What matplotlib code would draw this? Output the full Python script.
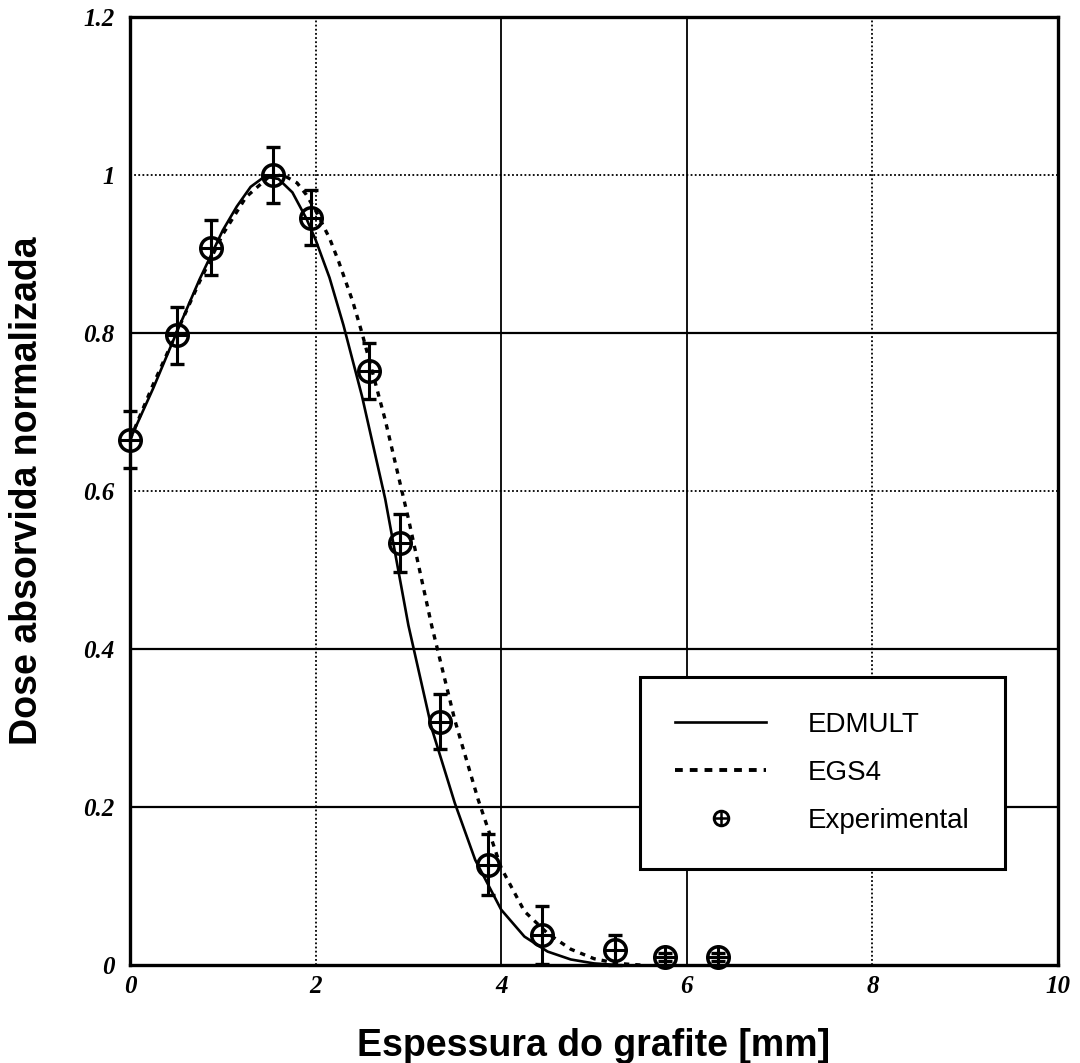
import matplotlib
matplotlib.use("Agg")
import matplotlib.pyplot as plt
from matplotlib.lines import Line2D
from matplotlib.legend_handler import HandlerTuple
from matplotlib.ticker import FuncFormatter

# ---- data ----
exp_x = [0.0, 0.51, 0.87, 1.54, 1.95, 2.58, 2.91, 3.34, 3.86, 4.44, 5.23, 5.77, 6.34]
exp_y = [0.665, 0.797, 0.908, 1.0, 0.946, 0.752, 0.534, 0.308, 0.127, 0.038, 0.019, 0.010, 0.010]
exp_err = [0.036, 0.036, 0.035, 0.035, 0.035, 0.035, 0.037, 0.035, 0.039, 0.037, 0.019, 0.005, 0.005]

edmult_x = [0, 0.25, 0.5, 0.75, 1.0, 1.15, 1.3, 1.45, 1.6, 1.75, 1.9, 2.0, 2.15, 2.3,
            2.5, 2.75, 3.0, 3.25, 3.5, 3.72, 4.0, 4.25, 4.5, 4.75, 5.0, 5.25]
edmult_y = [0.665, 0.73, 0.80, 0.868, 0.93, 0.96, 0.985, 0.998, 0.995, 0.978, 0.945, 0.918,
            0.87, 0.81, 0.72, 0.59, 0.43, 0.30, 0.205, 0.133, 0.07, 0.036, 0.017, 0.007,
            0.002, 0.0]

egs4_x = [0, 0.25, 0.5, 0.75, 1.0, 1.25, 1.5, 1.65, 1.8, 1.9, 2.0, 2.15, 2.25, 2.4, 2.5,
          2.75, 3.0, 3.25, 3.5, 3.75, 4.0, 4.25, 4.5, 4.75, 5.0, 5.25, 5.5]
egs4_y = [0.665, 0.735, 0.80, 0.865, 0.925, 0.972, 0.998, 1.0, 0.99, 0.975, 0.955, 0.92,
          0.89, 0.84, 0.80, 0.69, 0.565, 0.43, 0.31, 0.21, 0.123, 0.068, 0.04, 0.02,
          0.008, 0.002, 0.0]

x_ticks = [0, 2, 4, 6, 8, 10]
y_ticks = [0, 0.2, 0.4, 0.6, 0.8, 1.0, 1.2]

x_label = "Espessura do grafite [mm]"
y_label = "Dose absorvida normalizada"
series_labels = ["EDMULT", "EGS4", "Experimental"]

plt.rcParams["font.family"] = ["Liberation Serif", "DejaVu Serif"]
plt.rcParams["font.style"] = "italic"
plt.rcParams["font.weight"] = "bold"
plt.rcParams["xtick.labelsize"] = 18
plt.rcParams["ytick.labelsize"] = 18

# ---- figure ----
fig = plt.figure(figsize=(10.8, 10.63), dpi=100)
ax = fig.add_axes([130/1080, 1-965/1063, 928/1080, 948/1063])
ax.set_xlim(0, 10)
ax.set_ylim(0, 1.2)

# grid
ax.set_xticks(x_ticks)
ax.set_yticks(y_ticks)
ax.grid(True, color="black", linewidth=1.3, linestyle=(0, (1, 1.3)), zorder=0)
solid_x = {4, 6}
solid_y = {0.2, 0.4, 0.8}
for t, gl in zip(x_ticks, ax.get_xgridlines()):
    if t in solid_x:
        gl.set_linestyle("-")
        gl.set_linewidth(1.3)
for t, gl in zip(y_ticks, ax.get_ygridlines()):
    if round(t, 1) in solid_y:
        gl.set_linestyle("-")
        gl.set_linewidth(1.6)

# curves
ax.plot(edmult_x, edmult_y, color="black", linewidth=1.9, zorder=3)
ax.plot(egs4_x, egs4_y, color="black", linewidth=2.4, linestyle=(0, (1.6, 1.8)), zorder=3)

# experimental points
ax.errorbar(exp_x, exp_y, yerr=exp_err, fmt="none", ecolor="black", elinewidth=2.2,
            capsize=5, capthick=2.4, zorder=4, clip_on=False)
ax.plot(exp_x, exp_y, linestyle="none", marker="o", markersize=15.5, markerfacecolor="none",
        markeredgecolor="black", markeredgewidth=2.5, zorder=5, clip_on=False)
ax.plot(exp_x, exp_y, linestyle="none", marker="+", markersize=15,
        markeredgecolor="black", markeredgewidth=2.2, zorder=5, clip_on=False)

# spines
for s in ax.spines.values():
    s.set_linewidth(2.4)
    s.set_zorder(6)

# tick labels
fmt = FuncFormatter(lambda v, p: f"{v:g}")
ax.xaxis.set_major_formatter(fmt)
ax.yaxis.set_major_formatter(fmt)
ax.tick_params(axis="both", length=0)
ax.tick_params(axis="x", pad=7)
ax.tick_params(axis="y", pad=11)

# axis labels
lab_font = dict(family="Liberation Sans", weight="bold", style="normal", size=27)
ax.set_xlabel(x_label, fontdict=lab_font)
ax.set_ylabel(y_label, fontdict=lab_font)
ax.xaxis.set_label_coords(0.5, -0.066)
ax.yaxis.set_label_coords(-0.092, 0.5)

# legend
h_ed = Line2D([], [], color="black", linewidth=1.9)
h_eg = Line2D([], [], color="black", linewidth=2.8, linestyle=(0, (2.0, 1.8)))
h_c = Line2D([], [], linestyle="none", marker="o", markersize=10.5, markerfacecolor="none",
             markeredgecolor="black", markeredgewidth=2.1)
h_p = Line2D([], [], linestyle="none", marker="+", markersize=10,
             markeredgecolor="black", markeredgewidth=1.8)
leg = ax.legend([h_ed, h_eg, (h_c, h_p)], series_labels,
                handler_map={tuple: HandlerTuple(ndivide=1, pad=0)},
                loc="upper left", bbox_to_anchor=(0.5496, 0.3038), borderaxespad=0,
                prop={"family": "Liberation Sans", "size": 20, "weight": "normal",
                      "style": "normal"},
                frameon=True, fancybox=False, edgecolor="black", framealpha=1,
                borderpad=1.25, handlelength=3.3, handletextpad=1.5, labelspacing=0.8)
leg.get_frame().set_linewidth(2.2)
leg.set_zorder(7)

fig.savefig("out.png", dpi=100)
